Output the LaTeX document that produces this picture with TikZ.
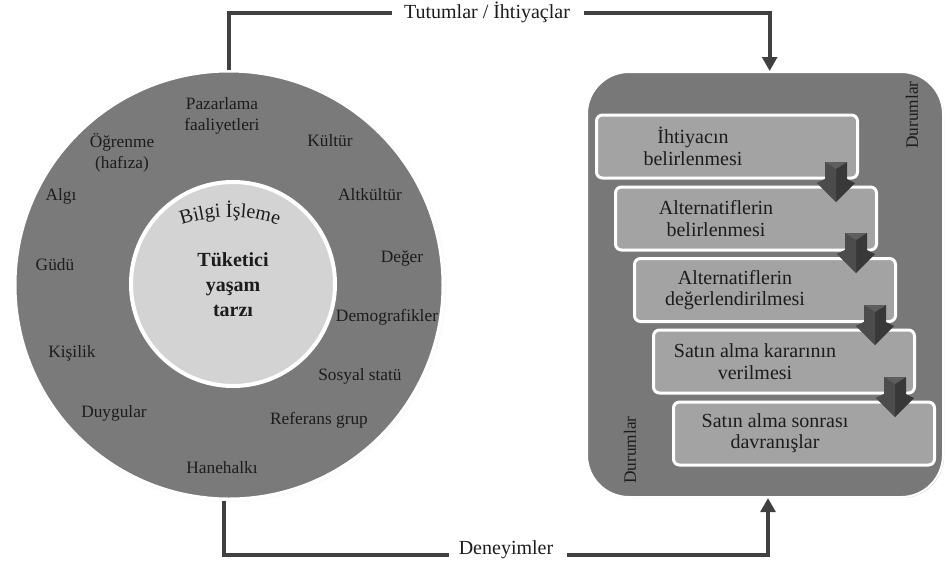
\documentclass[tikz,border=0pt]{standalone}
\usepackage{fontspec}
\setmainfont{Liberation Serif}
\usetikzlibrary{arrows.meta,decorations.text,shadows}
\definecolor{ringgray}{HTML}{7A7A7A}
\definecolor{coregray}{HTML}{D3D3D3}
\definecolor{panelgray}{HTML}{787878}
\definecolor{stepgray}{HTML}{A3A3A3}
\definecolor{linegray}{HTML}{404040}
\definecolor{arrowgray}{HTML}{383838}
\definecolor{arrowlite}{HTML}{4C4C4C}
\definecolor{arrowtop}{HTML}{5E5E5E}
\definecolor{txt}{HTML}{1C1C1C}
\begin{document}
\begin{tikzpicture}[x=0.75pt,y=-0.75pt,
  conn/.style={draw=linegray, line width=3pt},
  tipped/.style={-{Triangle[width=11pt,length=10.5pt]}},
  ringtxt/.style={font=\fontsize{13pt}{15.75pt}\selectfont, text=txt, align=center, inner sep=0pt},
  boxtxt/.style={font=\fontsize{15pt}{16pt}\selectfont, text=txt, align=center, inner sep=0pt},
  lbltxt/.style={font=\fontsize{15pt}{18pt}\selectfont, text=txt, inner sep=0pt},
  stepbox/.style={rectangle, rounded corners=4.5pt, fill=stepgray, draw=white, line width=2.25pt,
    minimum width=195.75pt, minimum height=47.25pt,
    drop shadow={shadow xshift=0.9pt, shadow yshift=-0.9pt, opacity=0.35}},
  downchev/.pic={
    \fill[arrowgray] (-11,0) -- (11,0) -- (11,17) -- (19,21) -- (0,40) -- (-19,21) -- (-11,17) -- cycle;
    \fill[arrowlite] (-11,0) -- (0,7) -- (0,40) -- (-19,21) -- (-11,17) -- cycle;
    \fill[arrowtop] (-11,0) -- (11,0) -- (0,7) -- cycle;
  }
]
\useasboundingbox (0,0) rectangle (945,565);

% left: ring of influences
\node[circle, fill=ringgray, draw=white, line width=2.25pt, minimum size=321pt, inner sep=0pt,
  circular drop shadow={shadow xshift=0.6pt, shadow yshift=-0.6pt, shadow scale=1.015, opacity=0.35}] (circ) at (229,285) {};
\node[circle, fill=coregray, draw=white, line width=3pt, minimum size=153pt, inner sep=0pt,
  circular drop shadow={shadow xshift=1.2pt, shadow yshift=-1.2pt, shadow scale=1.01, opacity=0.45}] (core) at (233,284) {};
\node[font=\bfseries\fontsize{15pt}{18.75pt}\selectfont, align=center, text=txt, inner sep=0pt] (life) at (233,285) {Tüketici\\yaşam\\tarzı};
\path[decorate, decoration={text along path, text align=center,
  text={|\fontsize{15pt}{18pt}\selectfont\color{txt}|Bilgi İşleme}}]
  ([shift={(118:112.5pt)}]230,367) arc[start angle=118, end angle=62, radius=112.5pt];

\node[ringtxt] (paz) at (222,116) {Pazarlama\\faaliyetleri};
\node[ringtxt] (ogr) at (122,153) {Öğrenme\\(hafıza)};
\node[ringtxt] (kul) at (330,141) {Kültür};
\node[ringtxt] (alg) at (61,196) {Algı};
\node[ringtxt] (alt) at (370,195) {Altkültür};
\node[ringtxt] (gud) at (55,265) {Güdü};
\node[ringtxt] (deg) at (402,258) {Değer};
\node[ringtxt] (dem) at (387,317) {Demografikler};
\node[ringtxt] (kis) at (72,353) {Kişilik};
\node[ringtxt] (sos) at (360,376) {Sosyal statü};
\node[ringtxt] (duy) at (114,413) {Duygular};
\node[ringtxt] (ref) at (319,420) {Referans grup};
\node[ringtxt] (han) at (222,468) {Hanehalkı};

% right: decision process
\node[rectangle, rounded corners=31.5pt, fill=panelgray, draw=white, line width=1.5pt,
  minimum width=267pt, minimum height=318.75pt,
  drop shadow={shadow xshift=0.8pt, shadow yshift=-0.8pt, opacity=0.35}] (proc) at (765,284.5) {};
\node[ringtxt, rotate=90] (dur1) at (912,115) {Durumlar};
\node[ringtxt, rotate=90] (dur2) at (630,450) {Durumlar};

\node[stepbox] (s1) at (727,146.5) {};
\node[stepbox] (s2) at (746,218.5) {};
\node[stepbox] (s3) at (765,290) {};
\node[stepbox] (s4) at (784,361.5) {};
\node[stepbox] (s5) at (804,433.5) {};
\node[boxtxt] (t1) at (693,146.5) {İhtiyacın\\belirlenmesi};
\node[boxtxt] (t2) at (716,218.5) {Alternatiflerin\\belirlenmesi};
\node[boxtxt] (t3) at (735,290) {Alternatiflerin\\değerlendirilmesi};
\node[boxtxt] (t4) at (755,361.5) {Satın alma kararının\\verilmesi};
\node[boxtxt] (t5) at (775,433.5) {Satın alma sonrası\\davranışlar};

\pic at (836,162) {downchev};
\pic at (856,233) {downchev};
\pic at (875,305) {downchev};
\pic at (895,377) {downchev};

% connectors
\node[lbltxt, anchor=base] (lab1) at (487,18) {Tutumlar / İhtiyaçlar};
\node[lbltxt, anchor=base] (lab2) at (506,554) {Deneyimler};
\coordinate (tl) at (392,13);
\coordinate (tr) at (584,13);
\coordinate (bl) at (449,555);
\coordinate (br) at (567,555);
\draw[conn] (circ.north) |- (tl);
\draw[conn, tipped] (tr) -| ([xshift=3.5pt]proc.north);
\draw[conn] ([xshift=-3.75pt]circ.south) |- (bl);
\draw[conn, tipped] (br) -| ([xshift=2.25pt]proc.south);
\end{tikzpicture}
\end{document}
